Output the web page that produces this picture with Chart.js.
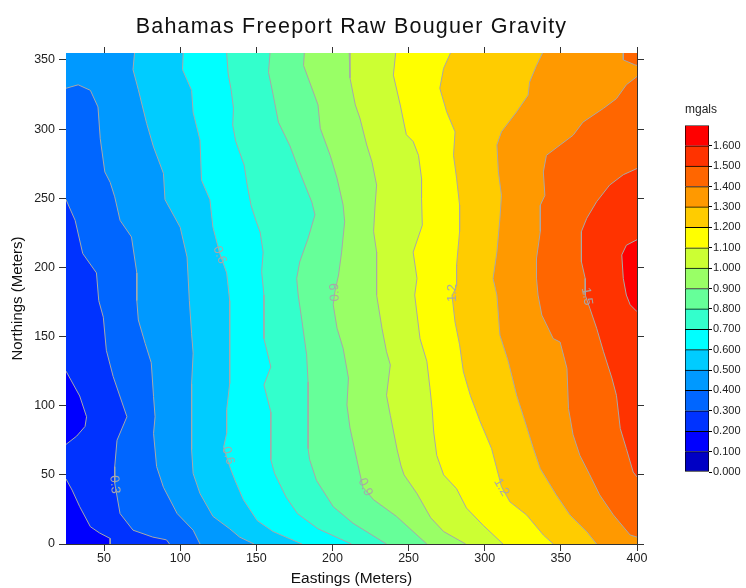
<!DOCTYPE html>
<html>
<head>
<meta charset="utf-8">
<script src="https://cdn.jsdelivr.net/npm/chart.js@4.4.1/dist/chart.umd.min.js"></script>
<style>
  html, body { margin: 0; padding: 0; background: #fff; }
  #main { position: absolute; left: 0; top: 0; }
  #scale { position: absolute; left: 680px; top: 90px; }
</style>
</head>
<body>
<canvas id="main" width="746" height="588"></canvas>
<canvas id="scale" width="66" height="392"></canvas>
<script>
// =========================
//  Data
// =========================

const xMin = 25, xMax = 400, yMin = 0, yMax = 355;
const xTicks = [50, 100, 150, 200, 250, 300, 350, 400];
const yTicks = [0, 50, 100, 150, 200, 250, 300, 350];

// colour scale levels (mgals); top box runs to legendTop
const levels = [0.0, 0.1, 0.2, 0.3, 0.4, 0.5, 0.6, 0.7, 0.8, 0.9, 1.0, 1.1, 1.2, 1.3, 1.4, 1.5, 1.6];
const legendTop = 1.7;

// contour lines as [easting, northing]
const contour02a = [[25,125],[34,107],[38.5,92],[37.5,85],[32,78],[25,72]];
const contour02b = [[25,47],[29,39],[34,27],[41,12.5],[47,8],[54,4],[54,0]];
const contour03 = [[25,249],[31,234],[36,210],[45,196],[46.5,176],[49.5,164],[51.5,140],[56,121],[65,92],[58.5,75],[57,56],[57,44],[60.5,22],[69,10],[82,5],[91,3],[93,0]];
const contour04 = [[25,329.5],[33,332],[41,328],[46,316],[47.5,293],[50.5,269],[54,261.5],[57,251],[60.5,234],[68,222],[71.5,196],[71.5,176],[72.5,162],[77,145],[81,131],[82.5,106.5],[83.5,92],[82.5,80],[84.5,56],[89,41],[98,22],[108.5,10],[113,0]];
const contour05 = [[70,355],[69,343],[72.5,328.5],[78,304],[82.5,287],[89,268],[90,249],[100,229],[104.5,207.5],[106,176],[107.5,152],[108.5,138],[107.5,116],[107.5,92],[107.5,68],[108.5,51],[113,36.5],[121.5,20],[132.5,11],[139,5],[148.5,0]];
const contour06 = [[102,355],[101.5,343],[107.5,328],[108.5,312],[113,292],[114,263],[119.5,249],[121.5,229],[126,210],[130.5,196],[132.5,176],[132.5,152.5],[132.5,116],[130.5,97],[130.5,80],[128.5,70],[132.5,56],[136,46],[141.5,32],[150.5,17],[161,9],[180,0]];
const contour07 = [[130.5,355],[131.5,340],[133.5,328],[135,315],[134.5,303],[136.5,291],[142,274],[144,259.5],[146.5,245],[150,233],[152.5,225.5],[154.5,211],[153.5,197],[155,180],[155,148.5],[159.5,128],[155,115],[159.5,95.5],[159.5,76],[159.5,61],[162,51],[169.5,34],[177,22],[190.5,11],[212.5,0]];
const contour08 = [[159,355],[158,341],[161,325],[164.5,305],[172,288],[178.5,269],[186.5,247],[188.5,238],[184,221],[178.5,204],[176.5,192],[177.5,180],[180,161],[183,137],[184,117],[184,96],[184,69],[185,61],[189.5,46],[200.5,27],[213.5,15],[235.5,0]];
const contour09 = [[181.5,355],[181,346],[185,334],[190.5,317.5],[192,300.5],[198.5,281],[203,264.5],[207,245],[208,233],[206,211],[204,194.5],[201.5,182],[200.5,173],[203,156],[207,141.5],[210.5,120],[209.5,100.5],[211.5,84],[216,61],[220,41],[227,32],[242,20],[262,0]];
const contour10 = [[211,355],[211.5,337],[215,317.5],[218,308],[222.5,288.5],[226,276],[229,259.5],[228,245],[227,226],[229,211],[229,192],[229,180],[232.5,156],[235.5,139],[238,129.5],[235.5,107.5],[238,93],[242.5,68],[245,56.5],[247,50],[255.5,36.5],[264.5,19],[273,9],[287.5,0]];
const contour11 = [[241.5,355],[240,339],[244.5,317.5],[248.5,296],[253,291],[256.5,281],[258.5,264.5],[258.5,250],[259,230.5],[253,211],[255.5,192],[254,180],[257.5,148.5],[262,132],[264,113],[265.5,97],[266.5,81],[268.5,64],[273,50],[281.5,40],[288,26],[299,13.5],[312,0]];
const contour12 = [[277.5,355],[273,344],[270.5,329.5],[275,312.5],[280.5,298],[279.5,281],[281.5,264.5],[283.5,245],[283.5,226],[281.5,201.5],[281.5,187],[279.5,181.5],[278.5,180],[280.5,160.5],[283.5,144],[286,124.5],[290.5,107.5],[297,88.5],[304.5,69],[309,50],[311,41.5],[316.5,30.5],[327.5,21],[338.5,6.5],[345,0]];
const contour13 = [[338,355],[334,346],[329.5,334],[328.5,324.5],[321,312.5],[311,298],[308,288.5],[309,269],[311,252],[310,235.5],[308,211],[305.5,192],[308,180],[310,151],[315.5,132],[321,107.5],[326.5,88.5],[332,69],[336.5,54.5],[347,35.5],[356,21],[367,9],[373.5,0]];
const contour14 = [[400,338],[393,332],[386.5,322],[378,315],[364.5,305],[358,295.5],[349.5,288.5],[340.5,281],[338.5,269],[339.5,252],[336.5,245],[336.5,226],[334,206.5],[334,192],[335,180],[337.5,165.5],[345,148.5],[349.5,146],[354,127],[355,98],[358,79],[362.5,64],[369,50],[375.5,35.5],[384.5,21],[395.5,6.5],[400,5]];
const contour14b = [[391,355],[391,350],[398.5,346.5],[400,346]];
const contour15 = [[400,271.5],[391,267],[382,259.5],[373.5,247.5],[367,235.5],[363.5,226],[363.5,204],[366,192],[366,180],[369,170.5],[373.5,156],[378,139],[383.5,120],[386.5,107.5],[389,83.5],[393,69],[397.5,52],[400,48.5]];
const contour16 = [[400,220],[393,216],[390,209],[391,192],[393,180],[395.5,173],[400,168]];

// contour labels: text, anchor (easting, northing), text angle in degrees
const contourLabels = [
  ['0.3', 57, 43, 85],
  ['0.6', 131.5, 64, 75],
  ['0.9', 221.5, 41, 65],
  ['1.2', 311, 41, 60],
  ['0.6', 126, 209, 70],
  ['0.9', 201.5, 182, -92],
  ['1.2', 279, 181.5, -90],
  ['1.5', 367, 179, 80],
];

// =========================
//  Styles
// =========================

const bandColors = ['#0000c4', '#0000ff', '#0033ff', '#0066ff', '#0099ff', '#00ccff', '#00ffff',
  '#33ffcc', '#66ff99', '#99ff66', '#ccff33', '#ffff00', '#ffcc00', '#ff9900', '#ff6600', '#ff3300', '#ff0000'];
const lineGray = '#a8a8a8';
const axisColor = '#333';
const textColor = '#222';
const FONT = 'Arial, "Liberation Sans", sans-serif';

// =========================
//  Build datasets
// =========================

const pts = arr => arr.map(p => ({ x: p[0], y: p[1] }));

// region above a contour that runs top -> bottom
const rightOf = line => line.concat([[xMax, yMin], [xMax, yMax]]);
// region above a contour that runs left edge -> bottom
const rightOfFromLeft = line => line.concat([[xMax, yMin], [xMax, yMax], [xMin, yMax]]);

// [polygon, band index]; painted from lowest band up
const regions = [
  [[[xMin, yMin], [xMin, yMax], [xMax, yMax], [xMax, yMin]], 2],
  [contour02a, 1],
  [contour02b.concat([[xMin, yMin]]), 1],
  [rightOfFromLeft(contour03), 3],
  [rightOfFromLeft(contour04), 4],
  [rightOf(contour05), 5],
  [rightOf(contour06), 6],
  [rightOf(contour07), 7],
  [rightOf(contour08), 8],
  [rightOf(contour09), 9],
  [rightOf(contour10), 10],
  [rightOf(contour11), 11],
  [rightOf(contour12), 12],
  [rightOf(contour13), 13],
  [contour14, 14],
  [contour14b.concat([[xMax, yMax]]), 14],
  [contour15, 15],
  [contour16, 16],
];

const contourLines = [contour02a, contour02b, contour03, contour04, contour05, contour06, contour07,
  contour08, contour09, contour10, contour11, contour12, contour13, contour14, contour14b, contour15, contour16];

const datasets = [];
regions.forEach(([poly, band], i) => {
  datasets.push({
    data: pts(poly),
    showLine: true,
    fill: 'shape',
    backgroundColor: bandColors[band],
    borderWidth: 0,
    pointRadius: 0,
    order: 100 - i,
  });
});
contourLines.forEach(line => {
  datasets.push({
    data: pts(line),
    showLine: true,
    fill: false,
    borderColor: lineGray,
    borderWidth: 1,
    pointRadius: 0,
    order: 1,
  });
});

// =========================
//  Plugins
// =========================

const titlePlugin = {
  id: 'mapTitle',
  afterDraw(chart) {
    const { ctx, chartArea } = chart;
    ctx.save();
    ctx.font = '21.5px ' + FONT;
    ctx.letterSpacing = '1.2px';
    ctx.fillStyle = '#111';
    ctx.textAlign = 'center';
    ctx.textBaseline = 'alphabetic';
    ctx.fillText('Bahamas Freeport Raw Bouguer Gravity', (chartArea.left + chartArea.right) / 2, 32.5);
    ctx.restore();
  }
};

const labelPlugin = {
  id: 'contourLabels',
  afterDatasetsDraw(chart) {
    const { ctx } = chart;
    const xs = chart.scales.x, ys = chart.scales.y;
    ctx.save();
    ctx.font = '13px ' + FONT;
    ctx.fillStyle = lineGray;
    ctx.textAlign = 'center';
    ctx.textBaseline = 'middle';
    for (const [text, x, y, angle] of contourLabels) {
      ctx.save();
      ctx.translate(xs.getPixelForValue(x), ys.getPixelForValue(y));
      ctx.rotate(angle * Math.PI / 180);
      ctx.fillText(text, 0, 0);
      ctx.restore();
    }
    ctx.restore();
  }
};

// =========================
//  Main map chart
// =========================

const tickFont = { family: FONT, size: 12.5 };
const gridOpts = { drawOnChartArea: false, drawTicks: true, tickLength: 7, color: axisColor };
const borderOpts = { display: true, color: axisColor, width: 1 };

new Chart(document.getElementById('main'), {
  type: 'scatter',
  data: { datasets },
  options: {
    responsive: false,
    animation: false,
    events: [],
    layout: { padding: { top: 53, right: 109, bottom: 0, left: 0 } },
    plugins: { legend: { display: false }, tooltip: { enabled: false } },
    scales: {
      x: {
        type: 'linear', position: 'bottom', min: xMin, max: xMax,
        afterBuildTicks: s => { s.ticks = xTicks.map(v => ({ value: v })); },
        afterFit: s => { s.height = 44; },
        ticks: { font: tickFont, color: textColor, padding: 0, maxRotation: 0, autoSkip: false },
        grid: gridOpts, border: borderOpts,
        title: { display: true, text: 'Eastings (Meters)', color: '#111',
          font: { family: FONT, size: 15.5 }, padding: { top: 0, bottom: 0 } },
      },
      x2: {
        type: 'linear', position: 'top', min: xMin, max: xMax,
        afterBuildTicks: s => { s.ticks = xTicks.map(v => ({ value: v })); },
        afterFit: s => { s.height = 0; },
        ticks: { display: false },
        grid: { ...gridOpts, tickLength: 6 }, border: borderOpts,
      },
      y: {
        type: 'linear', position: 'left', min: yMin, max: yMax,
        afterBuildTicks: s => { s.ticks = yTicks.map(v => ({ value: v })); },
        afterFit: s => { s.width = 66; },
        ticks: { font: tickFont, color: textColor, padding: 4, autoSkip: false },
        grid: gridOpts, border: borderOpts,
        title: { display: true, text: 'Northings (Meters)', color: '#111',
          font: { family: FONT, size: 15 }, padding: { top: 9, bottom: 0 } },
      },
      y2: {
        type: 'linear', position: 'right', min: yMin, max: yMax,
        afterBuildTicks: s => { s.ticks = yTicks.map(v => ({ value: v })); },
        afterFit: s => { s.width = 0; },
        ticks: { display: false },
        grid: gridOpts, border: borderOpts,
      },
    },
  },
  plugins: [labelPlugin, titlePlugin],
});

// =========================
//  Colour scale bar
// =========================

const scaleSets = levels.map((lo, i) => ({
  data: [[lo, i < levels.length - 1 ? levels[i + 1] : legendTop]],
  backgroundColor: bandColors[i],
  borderColor: '#000',
  borderWidth: 1,
  borderSkipped: i === 0 ? false : 'start',
  barPercentage: 1,
  categoryPercentage: 1,
}));

new Chart(document.getElementById('scale'), {
  type: 'bar',
  data: { labels: [''], datasets: scaleSets },
  options: {
    responsive: false,
    animation: false,
    events: [],
    layout: { padding: { top: 0, right: 0, bottom: 10, left: 5 } },
    plugins: {
      legend: { display: false },
      tooltip: { enabled: false },
      title: { display: true, text: 'mgals', align: 'start', color: textColor,
        font: { family: FONT, size: 12, weight: 'normal' }, padding: { top: 12, bottom: 9 } },
    },
    scales: {
      x: { display: false, stacked: true },
      y: {
        position: 'right', min: 0, max: legendTop,
        afterBuildTicks: s => { s.ticks = levels.map(v => ({ value: v })); },
        afterFit: s => { s.width = 37; },
        ticks: { font: { family: FONT, size: 11 }, color: textColor, padding: 1,
          callback: v => v.toFixed(3) },
        grid: { drawOnChartArea: false, drawTicks: true, tickLength: 3, color: '#000' },
        border: { display: false },
      },
    },
  },
});
</script>
</body>
</html>
